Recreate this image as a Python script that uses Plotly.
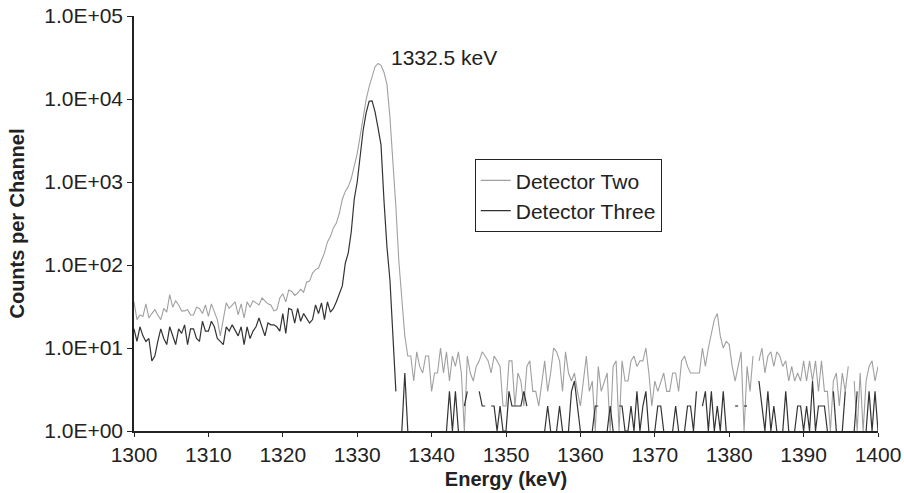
import math
import plotly.graph_objects as go

# Channel energies (keV): 0.4 keV channels from 1300 to 1400
E_START = 1300.0
E_STEP = 0.4
N_CH = 251
energy = [round(E_START + E_STEP * i, 1) for i in range(N_CH)]

# Detector Two counts per channel (None = zero counts, not drawable on log axis)
detector_two = [
    36, 22, 25, 24, 34, 23, 26, 29, 25, 22, 30, 27, 44, 31, 37, 33, 28, 28, 29, 25, 25, 31, 30, 26, 33,
    24, 34, 28, 22, 14, 22, 35, 30, 33, 36, 25, 34, 23, 36, 31, 37, 35, 33, 40, 37, 34, 33, 28, 29, 40,
    45, 36, 50, 48, 43, 46, 51, 47, 62, 64, 80, 88, 92, 115, 140, 190, 220, 280, 320, 420, 620, 770, 880, 1100, 1550,
    2200, 3600, 6200, 9800, 14000, 19200, 24500, 26800, 25500, 21000, 15000, 6000, 1800, 500, 110, 40, 14, 8, 8, 4, 9, 6, 5, 8, 8,
    3, 5, 5, 10, 5, 9, 4, 8, 6, 9, 5, 1, 8, 5, 4, 6, 7, 9, 8, 7, 5, 8, 7, 6, 2,
    2, 7, 7, 2, 5, 4, 2, 6, 7, 3, 3, 2, 4, 7, 3, 5, 10, 9, 7, 3, 9, 5, 4, 5, 3,
    2, 4, 8, 3, 4, 1, 6, 3, 4, 5, 1, 6, 7, 1, 7, 4, 4, 7, 8, 6, 7, 7, 10, 5, 2,
    4, 3, 4, 5, 3, 3, 5, 5, 3, 7, 8, 6, 5, 5, 5, 5, 10, 6, 10, 15, 22, 26, 14, 10, 12,
    11, 6, 4, 6, 9, 1, 6, 3, 8, None, 7, 10, 5, 8, 9, 6, 9, 8, 6, 7, 4, 6, 4, 5, 4,
    7, 4, 7, 4, 7, 3, 7, 3, 3, 1, 4, 5, 2, 5, 3, 6, None, 4, 1, 5, 1, 4, 6, 7, 4, 6,
]

# Detector Three counts per channel
detector_three = [
    17, 12, 18, 14, 12, 13, 7, 8, 12, 17, 13, 11, 18, 14, 11, 17, 15, 19, 11, 17, 17, 13, 12, 21, 16,
    16, 21, 18, 13, 12, 11, 18, 16, 19, 16, 14, 18, 11, 18, 13, 16, 18, 23, 18, 14, 20, 19, 19, 18, 16,
    26, 15, 30, 29, 20, 30, 21, 26, 23, 20, 22, 33, 26, 35, 22, 36, 27, 30, 36, 46, 56, 105, 140, 250, 620,
    1000, 2200, 4200, 6800, 9400, 9500, 7000, 4500, 2800, 600, 165, 66, 14, 3, None, 1, 5, 1, None, None, None, None, None, None, None,
    None, None, None, None, None, 1, 3, 1, 3, 1, None, 2, 3, None, None, None, 3, 2, 2, None, 2, 2, 1, 2, 1,
    1, 3, 2, 2, 2, 2, 3, 2, None, None, None, None, None, 1, 2, 1, None, 1, 2, 1, None, 1, 3, 4, 2,
    1, None, None, None, 1, 2, 2, None, None, 1, 2, 1, None, 2, 2, 1, 1, 2, 1, 3, 1, 2, 3, 1, None,
    1, 2, 2, 1, None, None, 1, 2, 1, None, 1, 2, 2, 1, 3, None, 2, 3, 1, 3, 1, 2, 1, 3, 1,
    None, None, 2, 2, None, 2, 2, None, None, None, 4, 2, 1, 3, 1, 2, 1, None, 1, 3, 1, None, 1, 2, 2,
    1, 2, 1, 4, 1, 2, 2, 2, 1, None, 3, 1, None, 1, 3, None, None, 1, 3, None, None, 1, 3, 1, 3, 1,
]

x_ticks = list(range(1300, 1401, 10))
y_ticks = [1, 10, 100, 1000, 10000, 100000]
y_tick_labels = ["1.0E+00", "1.0E+01", "1.0E+02", "1.0E+03", "1.0E+04", "1.0E+05"]

peak_label = "1332.5 keV"
peak_label_energy = 1334.3
peak_label_counts = 31600

FONT = "Liberation Sans, Arial, sans-serif"
TXT = "#222222"

fig = go.Figure()
fig.add_trace(go.Scatter(
    x=energy, y=detector_two, mode="lines", name="Detector Two",
    line=dict(color="#a0a0a0", width=1.1), connectgaps=False,
))
fig.add_trace(go.Scatter(
    x=energy, y=detector_three, mode="lines", name="Detector Three",
    line=dict(color="#333333", width=1.2), connectgaps=False,
))

fig.add_annotation(
    x=peak_label_energy, y=math.log10(peak_label_counts),
    text=peak_label, showarrow=False, xanchor="left", yanchor="middle",
    font=dict(family=FONT, size=21, color=TXT),
)

fig.update_layout(
    width=904, height=493,
    margin=dict(l=134, r=26, t=16, b=62, autoexpand=False),
    paper_bgcolor="white", plot_bgcolor="white",
    font=dict(family=FONT, size=21, color=TXT),
    showlegend=True,
    legend=dict(
        x=0.458, y=0.655, xanchor="left", yanchor="top",
        bordercolor="#222222", borderwidth=1, bgcolor="white",
        font=dict(family=FONT, size=21, color=TXT),
        tracegroupgap=0, itemwidth=30,
    ),
)
fig.update_xaxes(
    range=[1300, 1400], tickvals=x_ticks, ticks="outside", ticklen=4,
    tickcolor="#222222", showline=True, linecolor="#222222", linewidth=1.5,
    showgrid=False, zeroline=False, automargin=False, ticklabeloverflow="allow",
    tickfont=dict(family=FONT, size=21, color=TXT),
    title=dict(text="<b>Energy (keV)</b>", font=dict(family=FONT, size=20, color=TXT), standoff=7),
)
fig.update_yaxes(
    type="log", range=[0, 5], tickvals=y_ticks, ticktext=y_tick_labels,
    ticks="outside", ticklen=5, tickcolor="#222222",
    showline=True, linecolor="#222222", linewidth=1.5,
    showgrid=False, zeroline=False, automargin=False, ticklabeloverflow="allow",
    tickfont=dict(family=FONT, size=21, color=TXT),
    title=dict(text="<b>Counts per Channel</b>", font=dict(family=FONT, size=20, color=TXT), standoff=14),
)

fig.write_html(
    "out.html",
    config={"displayModeBar": False},
    post_script=(
        "document.body.style.margin='0';"
        "document.body.style.overflow='hidden';"
        "document.documentElement.style.overflow='hidden';"
    ),
)
